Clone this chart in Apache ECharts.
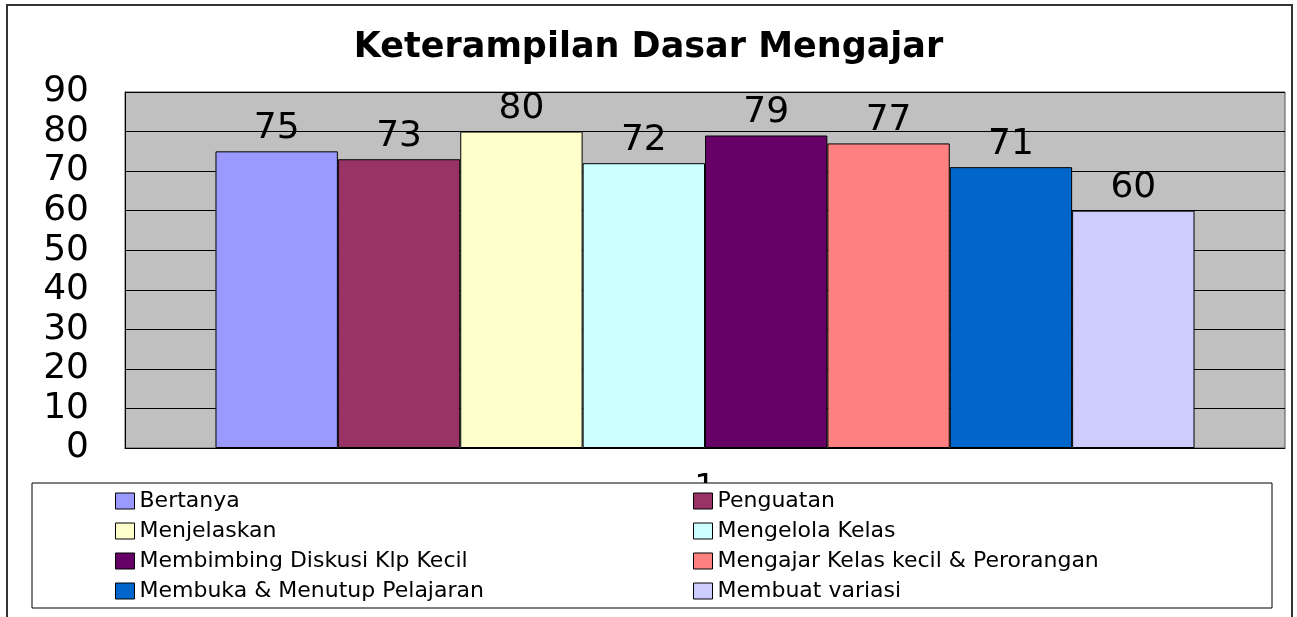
<!DOCTYPE html>
<html>
<head>
<meta charset="utf-8">
<script src="https://cdn.jsdelivr.net/npm/echarts@6/dist/echarts.min.js"></script>
<style>
  html, body { margin: 0; padding: 0; background: #fff; }
  #chart { width: 1297px; height: 617px; }
</style>
</head>
<body>
<div id="chart"></div>
<script>
var categories = ['1'];
var skillNames = [
  'Bertanya', 'Penguatan', 'Menjelaskan', 'Mengelola Kelas',
  'Membimbing Diskusi Klp Kecil', 'Mengajar Kelas kecil & Perorangan',
  'Membuka & Menutup Pelajaran', 'Membuat variasi'
];
var skillValues = [75, 73, 80, 72, 79, 77, 71, 60];
var skillColors = ['#9999ff', '#993366', '#ffffcc', '#ccffff', '#660066', '#ff8080', '#0066cc', '#ccccff'];
var yTicks = { min: 0, max: 90, step: 10 };

var font = 'DejaVu Sans';
var chart = echarts.init(document.getElementById('chart'));

// one series per skill, single category "1"
var series = skillNames.map(function (name, i) {
  return {
    name: name,
    type: 'bar',
    data: [skillValues[i]],
    barGap: '0%',
    barCategoryGap: '15.6%',
    itemStyle: { color: skillColors[i], borderColor: '#000', borderWidth: 1 },
    label: {
      show: true, position: 'top', distance: 5,
      color: '#000', fontFamily: font, fontSize: 36
    }
  };
});

function legendBox(names, left) {
  return {
    orient: 'vertical', left: left, top: 490, padding: 0,
    itemWidth: 19, itemHeight: 16, itemGap: 8,
    icon: 'rect',
    data: names,
    itemStyle: { borderColor: '#000', borderWidth: 1 },
    textStyle: { fontFamily: font, fontSize: 22, lineHeight: 22, color: '#000' },
    selectedMode: false
  };
}

chart.setOption({
  animation: false,
  backgroundColor: '#fff',
  title: {
    text: 'Keterampilan Dasar Mengajar',
    left: 'center', top: 25,
    textStyle: { fontFamily: font, fontWeight: 'bold', fontSize: 35, color: '#000' }
  },
  legend: [
    legendBox([skillNames[0], skillNames[2], skillNames[4], skillNames[6]], 115),
    legendBox([skillNames[1], skillNames[3], skillNames[5], skillNames[7]], 693)
  ],
  graphic: [
    { type: 'rect', z: 10, silent: true,
      shape: { x: 7, y: 5, width: 1285, height: 640 },
      style: { fill: null, stroke: '#333', lineWidth: 2 } },
    { type: 'rect', z: 3, silent: true,
      shape: { x: 32, y: 483, width: 1240, height: 125 },
      style: { fill: '#fff', stroke: '#000', lineWidth: 1 } }
  ],
  grid: {
    left: 125, right: 12, top: 92, bottom: 169,
    show: true, backgroundColor: '#c0c0c0', borderColor: '#555', borderWidth: 1
  },
  xAxis: {
    type: 'category',
    data: categories,
    axisTick: { show: false },
    axisLine: { lineStyle: { color: '#000', width: 1 } },
    axisLabel: { margin: 24, fontFamily: font, fontSize: 34, color: '#000' }
  },
  yAxis: {
    type: 'value',
    min: yTicks.min, max: yTicks.max, interval: yTicks.step,
    axisLine: { show: true, lineStyle: { color: '#000' } },
    axisTick: { show: false },
    splitLine: { lineStyle: { color: '#000', width: 1 } },
    axisLabel: { margin: 36, fontFamily: font, fontSize: 36, color: '#000' }
  },
  series: series
});
</script>
</body>
</html>
